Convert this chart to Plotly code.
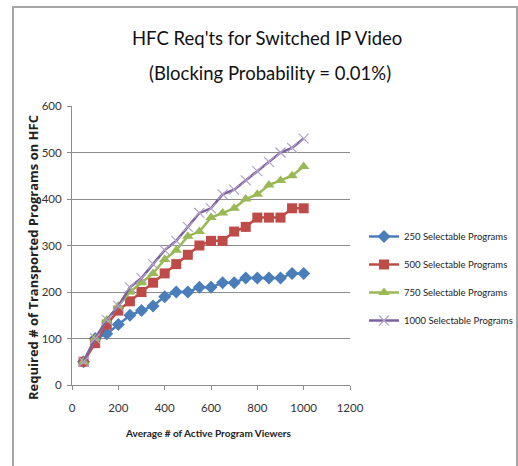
import plotly.graph_objects as go

viewers = [50, 100, 150, 200, 250, 300, 350, 400, 450, 500,
           550, 600, 650, 700, 750, 800, 850, 900, 950, 1000]
prog_250 = [50, 100, 110, 130, 150, 160, 170, 190, 200, 200,
            210, 210, 220, 220, 230, 230, 230, 230, 240, 240]
prog_500 = [50, 90, 130, 160, 180, 200, 220, 240, 260, 280,
            300, 310, 310, 330, 340, 360, 360, 360, 380, 380]
prog_750 = [50, 100, 140, 170, 200, 220, 240, 270, 290, 320,
            330, 360, 370, 380, 400, 410, 430, 440, 450, 470]
prog_1000 = [50, 100, 140, 170, 210, 230, 260, 290, 310, 340,
             370, 380, 410, 420, 440, 460, 480, 500, 510, 530]

series = [
    ("250 Selectable Programs", prog_250, "#4A7EBB", dict(symbol="diamond", size=10, color="#4A7EBB")),
    ("500 Selectable Programs", prog_500, "#BE4B48", dict(symbol="square", size=10, color="#BE4B48")),
    ("750 Selectable Programs", prog_750, "#98B954", dict(symbol="triangle-up", size=10, color="#98B954")),
    ("1000 Selectable Programs", prog_1000, "#7D60A0", dict(symbol="x-thin", size=10, color="#B3A2C7", line=dict(width=1.2, color="#B3A2C7"))),
]

FONT = "Lato, Roboto, sans-serif"

fig = go.Figure()
for i, (name, vals, col, mk) in enumerate(series):
    fig.add_trace(go.Scatter(
        x=viewers, y=vals, name=name, mode="lines+markers",
        line=dict(color=col, width=2.5), marker=mk,
        legendgroup=f"g{i}",
    ))

W, H = 518, 466
L, R, T, B = 72, 168, 106, 81
pw, ph = W - L - R, H - T - B

def px(x):
    return (x - L) / pw

def py(y):
    return (H - B - y) / ph

def ann(text, x, y, size, family=FONT, angle=0, color="#111"):
    return dict(text=text, x=px(x), y=py(y), xref="paper", yref="paper",
                xanchor="center", yanchor="middle", showarrow=False,
                textangle=angle, font=dict(family=family, size=size, color=color))

fig.update_layout(
    width=W, height=H,
    margin=dict(l=L, r=R, t=T, b=B, autoexpand=False),
    paper_bgcolor="white", plot_bgcolor="white",
    showlegend=True,
    legend=dict(
        x=px(364), y=py(222), xanchor="left", yanchor="top",
        font=dict(family=FONT, size=9.5, color="#222"),
        tracegroupgap=9, itemwidth=30,
        bgcolor="rgba(0,0,0,0)",
    ),
    xaxis=dict(
        range=[0, 1200], dtick=200, tick0=0, showgrid=False,
        showline=True, linecolor="#8C8C8C", linewidth=1,
        ticks="outside", ticklen=4, tickcolor="#8C8C8C",
        tickfont=dict(family=FONT, size=11.5, color="#333"),
        ticklabelstandoff=8,
        zeroline=False,
    ),
    yaxis=dict(
        range=[0, 600], dtick=100, tick0=0, showgrid=True,
        gridcolor="#8C8C8C", gridwidth=1,
        showline=True, linecolor="#8C8C8C", linewidth=1,
        ticks="outside", ticklen=4, tickcolor="#8C8C8C",
        tickfont=dict(family=FONT, size=11.5, color="#333"),
        ticklabelstandoff=3,
        zeroline=False,
    ),
    annotations=[
        ann("HFC Req'ts for Switched IP Video", 267, 38, 18.5),
        ann("(Blocking Probability = 0.01%)", 270, 73, 18.5),
        ann("<b>Average # of Active Program Viewers</b>", 208, 433, 10, color="#222"),
        ann("<b>Required # of Transported Programs on HFC</b>", 33, 258, 13,
            family="Open Sans, sans-serif", angle=-90, color="#222"),
    ],
    shapes=[
        dict(type="rect", xref="paper", yref="paper",
             x0=px(13), x1=px(517), y0=py(475), y1=py(7),
             line=dict(color="#A6A6A6", width=2), fillcolor="rgba(0,0,0,0)"),
    ],
)

fig.write_html("out.html")
